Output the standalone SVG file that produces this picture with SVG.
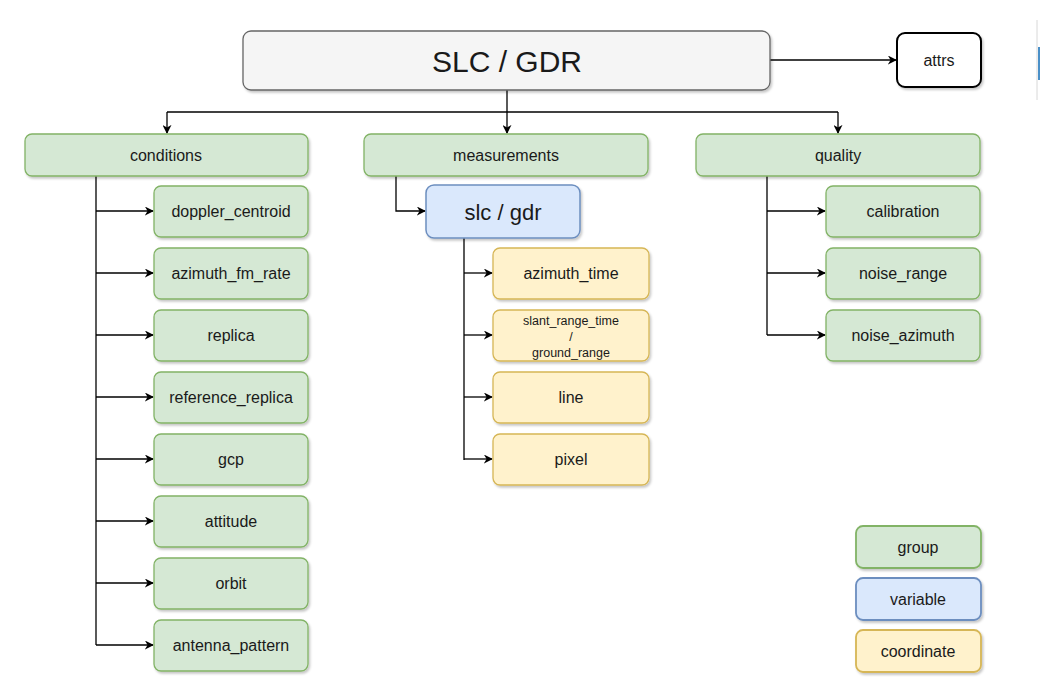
<svg xmlns="http://www.w3.org/2000/svg" width="1040" height="685" viewBox="0 0 1040 685">
<defs>
<filter id="sh" x="-10%" y="-10%" width="130%" height="140%">
<feDropShadow dx="1.5" dy="2" stdDeviation="1.2" flood-color="#000" flood-opacity="0.22"/>
</filter>
<marker id="arr" viewBox="0 0 10 10" refX="9" refY="5" markerWidth="9" markerHeight="9" markerUnits="userSpaceOnUse" orient="auto">
<path d="M0,0 L10,5 L0,10 L3,5 Z" fill="#000"/>
</marker>
</defs>
<style>
text{font-family:"Liberation Sans",Arial,sans-serif;fill:#1a1a1a;text-anchor:middle;dominant-baseline:central;font-size:16px}
.g{fill:#d5e8d4;stroke:#82b366;stroke-width:1.3}
.y{fill:#fff2cc;stroke:#d6b656;stroke-width:1.3}
.b{fill:#dae8fc;stroke:#6c8ebf;stroke-width:1.5}
.n rect{filter:url(#sh)}
.c path{fill:none;stroke:#000;stroke-width:1.3;marker-end:url(#arr)}
.c .nl{marker-end:none}
</style>
<rect width="1040" height="685" fill="#fff"/>
<line x1="1037" y1="20" x2="1037" y2="100" stroke="#d8d8d8" stroke-width="1"/>
<rect x="1038" y="47" width="2" height="33" fill="#4a90c8"/>

<g class="c" id="connectors">
<path d="M770,60 H896"/>
<path class="nl" d="M507,90 V112"/>
<path class="nl" d="M167,112 H838"/>
<path d="M167,112 V133"/>
<path d="M507,112 V133"/>
<path d="M838,112 V133"/>
<path class="nl" d="M96,176 V645"/>
<path d="M96,211 H153"/>
<path d="M96,273 H153"/>
<path d="M96,335 H153"/>
<path d="M96,397 H153"/>
<path d="M96,459 H153"/>
<path d="M96,521 H153"/>
<path d="M96,583 H153"/>
<path d="M96,645 H153"/>
<path d="M396,176 V211 H425"/>
<path class="nl" d="M464,238 V460"/>
<path d="M464,273 H492"/>
<path d="M464,335 H492"/>
<path d="M464,397 H492"/>
<path d="M464,459 H492"/>
<path class="nl" d="M767,176 V335"/>
<path d="M767,211 H825"/>
<path d="M767,273 H825"/>
<path d="M767,335 H825"/>
</g>

<g class="n" id="root"><rect x="243" y="31" width="527" height="59" rx="8" fill="#f5f5f5" stroke="#666" stroke-width="1.3"/><text x="507" y="61" style="font-size:30px">SLC / GDR</text></g>
<g class="n" id="attrs"><rect x="897" y="33" width="84" height="54" rx="8" fill="#fff" stroke="#000" stroke-width="2"/><text x="939" y="60">attrs</text></g>

<g class="n" id="conditions"><rect class="g" x="25" y="134" width="283" height="42" rx="7"/><text x="166" y="155">conditions</text></g>
<g class="n" id="measurements"><rect class="g" x="364" y="134" width="284" height="42" rx="7"/><text x="506" y="155">measurements</text></g>
<g class="n" id="quality"><rect class="g" x="696" y="134" width="284" height="42" rx="7"/><text x="838" y="155">quality</text></g>

<g class="n" id="doppler_centroid"><rect class="g" x="154" y="186" width="154" height="51" rx="7"/><text x="231" y="211">doppler_centroid</text></g>
<g class="n" id="azimuth_fm_rate"><rect class="g" x="154" y="248" width="154" height="51" rx="7"/><text x="231" y="273">azimuth_fm_rate</text></g>
<g class="n" id="replica"><rect class="g" x="154" y="310" width="154" height="51" rx="7"/><text x="231" y="335">replica</text></g>
<g class="n" id="reference_replica"><rect class="g" x="154" y="372" width="154" height="51" rx="7"/><text x="231" y="397">reference_replica</text></g>
<g class="n" id="gcp"><rect class="g" x="154" y="434" width="154" height="51" rx="7"/><text x="231" y="459">gcp</text></g>
<g class="n" id="attitude"><rect class="g" x="154" y="496" width="154" height="51" rx="7"/><text x="231" y="521">attitude</text></g>
<g class="n" id="orbit"><rect class="g" x="154" y="558" width="154" height="51" rx="7"/><text x="231" y="583">orbit</text></g>
<g class="n" id="antenna_pattern"><rect class="g" x="154" y="620" width="154" height="51" rx="7"/><text x="231" y="645">antenna_pattern</text></g>

<g class="n" id="slc_gdr"><rect class="b" x="426" y="185" width="154" height="53" rx="8"/><text x="503" y="212" style="font-size:22px">slc / gdr</text></g>

<g class="n" id="azimuth_time"><rect class="y" x="493" y="248" width="156" height="51" rx="7"/><text x="571" y="273">azimuth_time</text></g>
<g class="n" id="slant_range_time"><rect class="y" x="493" y="310" width="156" height="51" rx="7"/><text x="571" y="321" style="font-size:12.5px">slant_range_time</text><text x="571" y="337" style="font-size:12.5px">/</text><text x="571" y="353" style="font-size:12.5px">ground_range</text></g>
<g class="n" id="line"><rect class="y" x="493" y="372" width="156" height="51" rx="7"/><text x="571" y="397">line</text></g>
<g class="n" id="pixel"><rect class="y" x="493" y="434" width="156" height="51" rx="7"/><text x="571" y="459">pixel</text></g>

<g class="n" id="calibration"><rect class="g" x="826" y="186" width="154" height="51" rx="7"/><text x="903" y="211">calibration</text></g>
<g class="n" id="noise_range"><rect class="g" x="826" y="248" width="154" height="51" rx="7"/><text x="903" y="273">noise_range</text></g>
<g class="n" id="noise_azimuth"><rect class="g" x="826" y="310" width="154" height="51" rx="7"/><text x="903" y="335">noise_azimuth</text></g>

<g class="n" id="legend_group"><rect class="g" x="856" y="526" width="125" height="42" rx="7" style="stroke-width:1.8"/><text x="918" y="547">group</text></g>
<g class="n" id="legend_variable"><rect class="b" x="856" y="578" width="125" height="42" rx="7" style="stroke-width:1.8"/><text x="918" y="599">variable</text></g>
<g class="n" id="legend_coordinate"><rect class="y" x="856" y="630" width="125" height="42" rx="7" style="stroke-width:1.8"/><text x="918" y="651">coordinate</text></g>
</svg>
